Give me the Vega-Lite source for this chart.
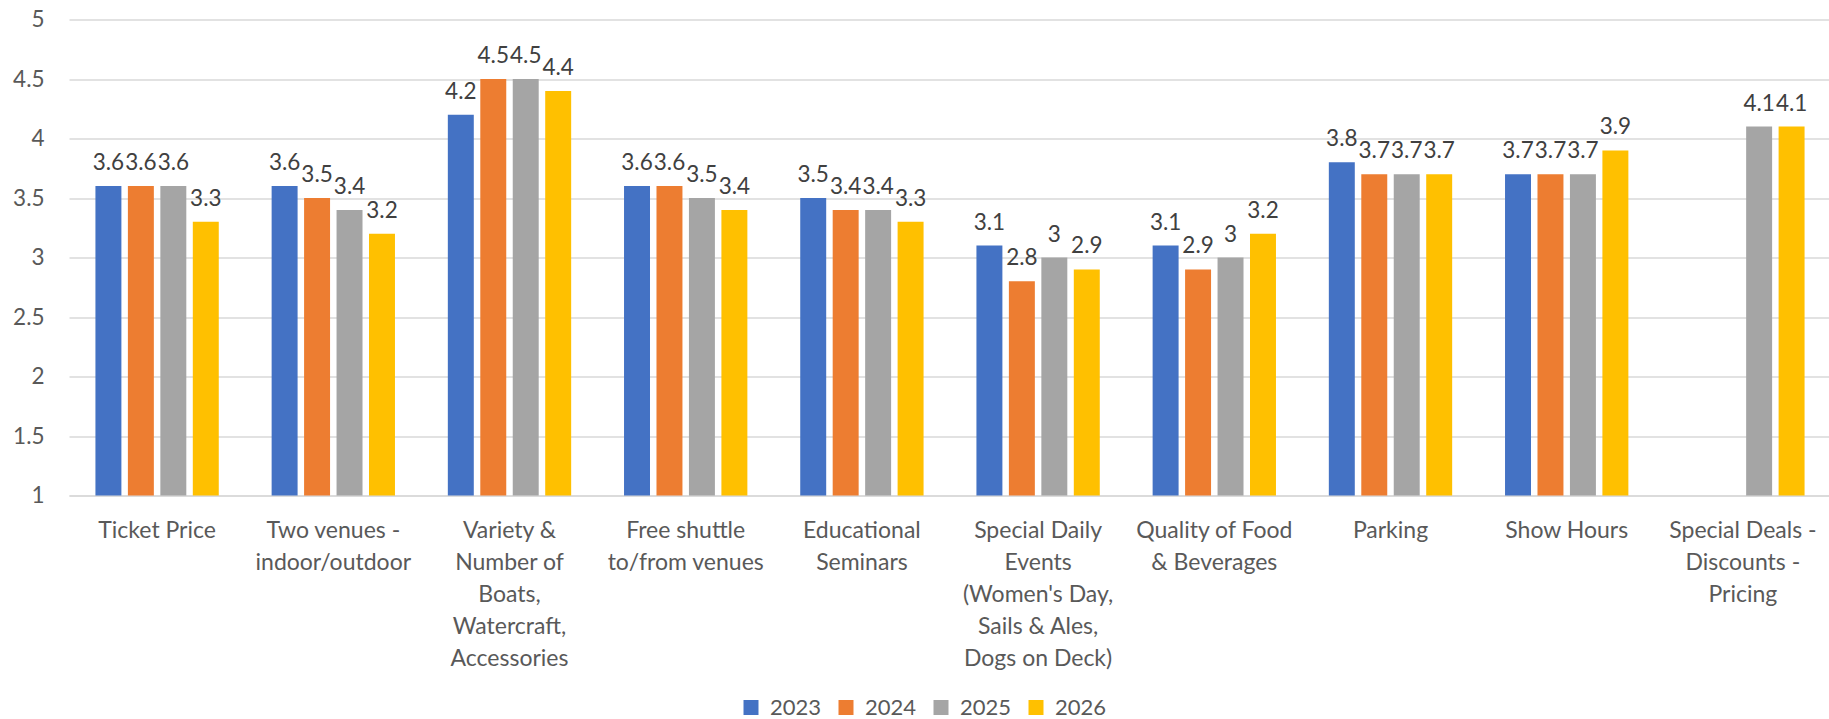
{
  "$schema": "https://vega.github.io/schema/vega-lite/v6.json",
  "autosize": {"type": "none"},
  "padding": {"left": 69, "top": 19.5, "right": 0, "bottom": 223.5},
  "width": 1762,
  "height": 476,
  "background": "white",
  "config": {
    "font": "Lato",
    "view": {"stroke": null}
  },
  "data": {
    "values": [
      {"item": "Ticket Price", "year": "2023", "score": 3.6},
      {"item": "Ticket Price", "year": "2024", "score": 3.6},
      {"item": "Ticket Price", "year": "2025", "score": 3.6},
      {"item": "Ticket Price", "year": "2026", "score": 3.3},
      {"item": "Two venues -\nindoor/outdoor", "year": "2023", "score": 3.6},
      {"item": "Two venues -\nindoor/outdoor", "year": "2024", "score": 3.5},
      {"item": "Two venues -\nindoor/outdoor", "year": "2025", "score": 3.4},
      {"item": "Two venues -\nindoor/outdoor", "year": "2026", "score": 3.2},
      {"item": "Variety &\nNumber of\nBoats,\nWatercraft,\nAccessories", "year": "2023", "score": 4.2},
      {"item": "Variety &\nNumber of\nBoats,\nWatercraft,\nAccessories", "year": "2024", "score": 4.5},
      {"item": "Variety &\nNumber of\nBoats,\nWatercraft,\nAccessories", "year": "2025", "score": 4.5},
      {"item": "Variety &\nNumber of\nBoats,\nWatercraft,\nAccessories", "year": "2026", "score": 4.4},
      {"item": "Free shuttle\nto/from venues", "year": "2023", "score": 3.6},
      {"item": "Free shuttle\nto/from venues", "year": "2024", "score": 3.6},
      {"item": "Free shuttle\nto/from venues", "year": "2025", "score": 3.5},
      {"item": "Free shuttle\nto/from venues", "year": "2026", "score": 3.4},
      {"item": "Educational\nSeminars", "year": "2023", "score": 3.5},
      {"item": "Educational\nSeminars", "year": "2024", "score": 3.4},
      {"item": "Educational\nSeminars", "year": "2025", "score": 3.4},
      {"item": "Educational\nSeminars", "year": "2026", "score": 3.3},
      {"item": "Special Daily\nEvents\n(Women's Day,\nSails & Ales,\nDogs on Deck)", "year": "2023", "score": 3.1},
      {"item": "Special Daily\nEvents\n(Women's Day,\nSails & Ales,\nDogs on Deck)", "year": "2024", "score": 2.8},
      {"item": "Special Daily\nEvents\n(Women's Day,\nSails & Ales,\nDogs on Deck)", "year": "2025", "score": 3.0},
      {"item": "Special Daily\nEvents\n(Women's Day,\nSails & Ales,\nDogs on Deck)", "year": "2026", "score": 2.9},
      {"item": "Quality of Food\n& Beverages", "year": "2023", "score": 3.1},
      {"item": "Quality of Food\n& Beverages", "year": "2024", "score": 2.9},
      {"item": "Quality of Food\n& Beverages", "year": "2025", "score": 3.0},
      {"item": "Quality of Food\n& Beverages", "year": "2026", "score": 3.2},
      {"item": "Parking", "year": "2023", "score": 3.8},
      {"item": "Parking", "year": "2024", "score": 3.7},
      {"item": "Parking", "year": "2025", "score": 3.7},
      {"item": "Parking", "year": "2026", "score": 3.7},
      {"item": "Show Hours", "year": "2023", "score": 3.7},
      {"item": "Show Hours", "year": "2024", "score": 3.7},
      {"item": "Show Hours", "year": "2025", "score": 3.7},
      {"item": "Show Hours", "year": "2026", "score": 3.9},
      {"item": "Special Deals -\nDiscounts -\nPricing", "year": "2025", "score": 4.1},
      {"item": "Special Deals -\nDiscounts -\nPricing", "year": "2026", "score": 4.1}
    ]
  },
  "encoding": {
    "x": {
      "field": "item",
      "type": "nominal",
      "sort": null,
      "scale": {"paddingInner": 0.3, "paddingOuter": 0.15},
      "axis": {
        "title": null,
        "labelAngle": 0,
        "labelExpr": "split(datum.label, '\\n')",
        "labelLineHeight": 32,
        "labelFontSize": 23,
        "labelColor": "#595959",
        "labelPadding": 24,
        "labelBaseline": "top",
        "labelLimit": 300,
        "ticks": false,
        "domain": true,
        "domainColor": "#d9d9d9",
        "domainWidth": 1.5
      }
    },
    "xOffset": {
      "field": "year",
      "type": "nominal",
      "scale": {"domain": ["2023", "2024", "2025", "2026"], "paddingInner": 0.2}
    }
  },
  "layer": [
    {
      "mark": {"type": "bar"},
      "encoding": {
        "y": {
          "field": "score",
          "type": "quantitative",
          "scale": {"domain": [1, 5], "nice": false, "zero": false},
          "axis": {
            "title": null,
            "values": [1, 1.5, 2, 2.5, 3, 3.5, 4, 4.5, 5],
            "format": "~g",
            "labelFontSize": 22.5,
            "labelColor": "#595959",
            "labelPadding": 25,
            "ticks": false,
            "domain": false,
            "gridColor": "#d9d9d9",
            "gridWidth": 1.5
          }
        },
        "y2": {"datum": 1},
        "color": {
          "field": "year",
          "type": "nominal",
          "scale": {"domain": ["2023", "2024", "2025", "2026"], "range": ["#4472C4", "#ED7D31", "#A5A5A5", "#FFC000"]},
          "legend": {
            "title": null,
            "orient": "none",
            "direction": "horizontal",
            "columns": 4,
            "legendX": 671,
            "legendY": 677,
            "symbolType": "square",
            "symbolSize": 225,
            "symbolStrokeWidth": 0,
            "labelFontSize": 22,
            "labelColor": "#595959",
            "labelOffset": 8,
            "columnPadding": 13
          }
        }
      }
    },
    {
      "mark": {"type": "text", "baseline": "alphabetic", "dy": -16, "fontSize": 22.5, "color": "#404040"},
      "encoding": {
        "y": {"field": "score", "type": "quantitative"},
        "text": {"field": "score", "type": "quantitative", "format": "~g"}
      }
    }
  ]
}
